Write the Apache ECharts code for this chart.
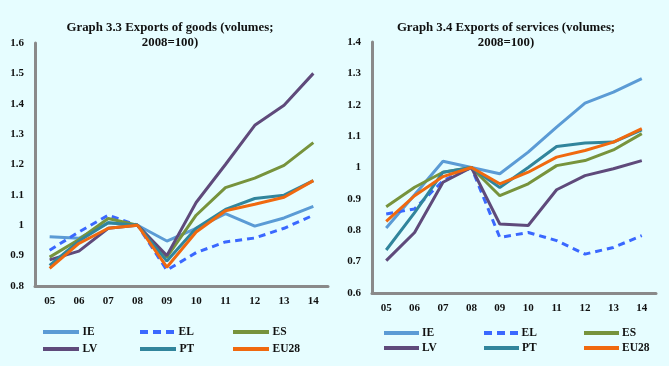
<!DOCTYPE html>
<html><head><meta charset="utf-8">
<script src="https://cdn.jsdelivr.net/npm/echarts@6/dist/echarts.min.js"></script>
<style>html,body{margin:0;padding:0;background:#e6fdff;}#c{width:669px;height:366px;}</style>
</head><body><div id="c"></div>
<script>
const years = ['05','06','07','08','09','10','11','12','13','14'];
const seriesNames = ['IE','EL','ES','LV','PT','EU28'];
// Graph 3.3 Exports of goods
const goodsIE   = [0.962,0.957,1.008,1.0,0.948,0.99,1.038,0.997,1.024,1.062];
const goodsEL   = [0.918,0.978,1.033,1.0,0.852,0.91,0.945,0.958,0.99,1.033];
const goodsES   = [0.895,0.953,1.022,1.0,0.895,1.033,1.124,1.155,1.197,1.272];
const goodsLV   = [0.886,0.915,0.99,1.0,0.9,1.075,1.2,1.329,1.395,1.5];
const goodsPT   = [0.868,0.948,1.008,1.0,0.882,0.99,1.052,1.088,1.099,1.147];
const goodsEU28 = [0.858,0.94,0.99,1.0,0.862,0.978,1.048,1.069,1.092,1.147];
// Graph 3.4 Exports of services
const servIE   = [0.807,0.913,1.02,1.0,0.98,1.049,1.129,1.205,1.24,1.283];
const servEL   = [0.852,0.868,0.958,1.0,0.777,0.793,0.767,0.724,0.745,0.783];
const servES   = [0.875,0.937,0.985,1.0,0.91,0.948,1.006,1.022,1.056,1.108];
const servLV   = [0.703,0.793,0.953,1.0,0.82,0.815,0.929,0.974,0.996,1.022];
const servPT   = [0.737,0.856,0.985,1.0,0.936,1.0,1.067,1.078,1.081,1.12];
const servEU28 = [0.828,0.91,0.971,1.0,0.948,0.985,1.033,1.054,1.081,1.124];

const goods = [goodsIE,goodsEL,goodsES,goodsLV,goodsPT,goodsEU28];
const serv = [servIE,servEL,servES,servLV,servPT,servEU28];
const colors = ['#5b9bd5','#3a68ff','#77933c','#5f4a7b','#31859c','#f0690f'];
const font = '"Liberation Serif", "DejaVu Serif", serif';

const chart = echarts.init(document.getElementById('c'), null, {renderer:'canvas'});
function axisX(gi){return {type:'category',gridIndex:gi,data:years,boundaryGap:true,
  axisLine:{lineStyle:{color:'#8a8a8a',width:3}},axisTick:{show:false},
  axisLabel:{color:'#111',fontFamily:font,fontSize:11,fontWeight:'bold',margin:10}};}
function axisY(gi,min,max){return {type:'value',gridIndex:gi,min:min,max:max,interval:0.1,
  axisLine:{show:true,lineStyle:{color:'#8a8a8a',width:3}},axisTick:{show:false},splitLine:{show:false},
  axisLabel:{color:'#111',fontFamily:font,fontSize:11,fontWeight:'bold',margin:11,
    formatter:v=>String(Math.round(v*10)/10)}};}
const series=[];
[goods,serv].forEach((set,gi)=>{
  set.forEach((d,i)=>{
    series.push({name:seriesNames[i],type:'line',xAxisIndex:gi,yAxisIndex:gi,data:d,
      symbol:'none',smooth:false,
      lineStyle:{color:colors[i],width:3,type:i===1?[7,5]:'solid'},
      itemStyle:{color:colors[i]},z:i===5?5:3});
  });
});
const solidIcon = 'path://M0,0L36,0L36,4L0,4Z';
const dashIcon = 'path://M0,0L8,0L8,4L0,4ZM13,0L21,0L21,4L13,4ZM26,0L34,0L34,4L26,4Z';
function leg(name,left,top,w){return {left:left,top:top,padding:0,selectedMode:false,
  data:[{name:name,icon:name==='EL'?dashIcon:solidIcon}],
  itemWidth:w,itemHeight:4,itemGap:0,
  textStyle:{fontFamily:font,fontSize:11.5,fontWeight:'bold',color:'#111',padding:[0,0,0,-2]}};}
const legends=[];
const colL=[[43,140,233],[384,484,584]];
const rowT=[[326,343],[327,342]];
[0,1].forEach(c=>{
  seriesNames.forEach((n,i)=>{
    const r=Math.floor(i/3), k=i%3;
    legends.push(leg(n,colL[c][k],rowT[c][r],c===0?37:35));
  });
});
chart.setOption({
  backgroundColor:'#e6fdff',
  animation:false,
  title:[
    {text:'Graph 3.3 Exports of goods (volumes;\n2008=100)',left:170,top:20,textAlign:'center',padding:0,
     textStyle:{fontFamily:font,fontSize:12.8,fontWeight:'bold',color:'#111',lineHeight:15}},
    {text:'Graph 3.4 Exports of services (volumes;\n2008=100)',left:506,top:20,textAlign:'center',padding:0,
     textStyle:{fontFamily:font,fontSize:12.8,fontWeight:'bold',color:'#111',lineHeight:15}}
  ],
  grid:[{left:35,right:669-328,top:43,bottom:366-286},{left:372,right:669-656,top:42,bottom:366-293}],
  xAxis:[axisX(0),axisX(1)],
  yAxis:[axisY(0,0.8,1.6),axisY(1,0.6,1.4)],
  legend:legends,
  series:series
});
</script></body></html>
